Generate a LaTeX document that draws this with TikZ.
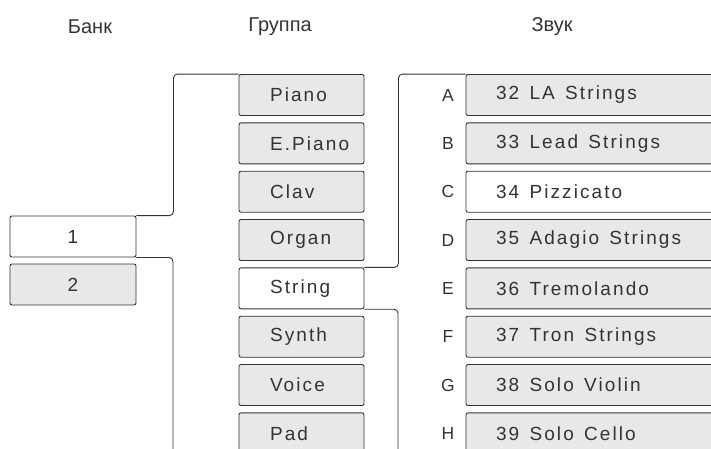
\documentclass[tikz,border=0pt]{standalone}
\usepackage{fontspec}
\setmainfont{Liberation Sans}
\newfontfamily\spacedfont[LetterSpace=11]{Liberation Sans}
\newcommand\boxfont{\spacedfont\fontsize{19}{21}\selectfont}
\newcommand\wx{\kern4pt}
\definecolor{boxgray}{HTML}{E8E8E8}
\definecolor{ink}{HTML}{333333}
\begin{document}
\begin{tikzpicture}[x=1pt,y=-1pt,
  box/.style={draw=ink, line width=0.9pt, rounded corners=2pt, fill=boxgray,
    minimum height=41pt, inner sep=0pt, text=ink, font=\boxfont},
  whitebox/.style={fill=white},
  bankbox/.style={box, minimum width=126pt},
  grpbox/.style={box, text width=125pt, align=left, execute at begin node=\hspace*{31pt}},
  sndbox/.style={box, text width=280pt, align=left, execute at begin node=\hspace*{30pt}},
  head/.style={text=ink, font=\fontsize{20}{22}\selectfont, inner sep=0pt},
  letter/.style={text=ink, font=\fontsize{17.5}{19}\selectfont, inner sep=0pt},
  conn/.style={draw=ink, line width=0.9pt, rounded corners=4pt}]
\useasboundingbox (0,0) rectangle (711,448);
\clip (0,0) rectangle (711,448);

% headers
\node[head] (hbank) at (90,27) {Банк};
\node[head] (hgrp) at (280,27) {Группа};
\node[head] (hsnd) at (552,27) {Звук};

% bank
\node[bankbox, whitebox] (b1) at (73,236.5) {1};
\node[bankbox] (b2) at (73,284.5) {2};

% groups
\node[grpbox] (g1) at (301.5,95) {Piano};
\node[grpbox] (g2) at (301.5,143.3) {E.Piano};
\node[grpbox] (g3) at (301.5,191.7) {Clav};
\node[grpbox] (g4) at (301.5,240) {Organ};
\node[grpbox, whitebox] (g5) at (301.5,288.3) {String};
\node[grpbox] (g6) at (301.5,336.7) {Synth};
\node[grpbox] (g7) at (301.5,385) {Voice};
\node[grpbox] (g8) at (301.5,433.3) {Pad};

% sounds
\node[sndbox] (s1) at (606,95) {32 \wx LA \wx Strings};
\node[sndbox] (s2) at (606,143.3) {33 \wx Lead \wx Strings};
\node[sndbox, whitebox] (s3) at (606,191.7) {34 \wx Pizzicato};
\node[sndbox] (s4) at (606,240) {35 \wx Adagio \wx Strings};
\node[sndbox] (s5) at (606,288.3) {36 \wx Tremolando};
\node[sndbox] (s6) at (606,336.7) {37 \wx Tron \wx Strings};
\node[sndbox] (s7) at (606,385) {38 \wx Solo \wx Violin};
\node[sndbox] (s8) at (606,433.3) {39 \wx Solo \wx Cello};

% letters
\node[letter] (l1) at (448,95) {A};
\node[letter] (l2) at (448,143.3) {B};
\node[letter] (l3) at (448,191.7) {C};
\node[letter] (l4) at (448,240) {D};
\node[letter] (l5) at (448,288.3) {E};
\node[letter] (l6) at (448,336.7) {F};
\node[letter] (l7) at (448,385) {G};
\node[letter] (l8) at (448,433.3) {H};

% connectors
\coordinate (bankend) at (173,480);
\coordinate (grpend) at (398,480);
\draw[conn] (b1.north east) -- ++(37,0) |- (g1.north west);
\draw[conn] (b1.south east) -| (bankend);
\draw[conn] (g5.north east) -- ++(34,0) |- (s1.north west);
\draw[conn] (g5.south east) -| (grpend);
\end{tikzpicture}
\end{document}
